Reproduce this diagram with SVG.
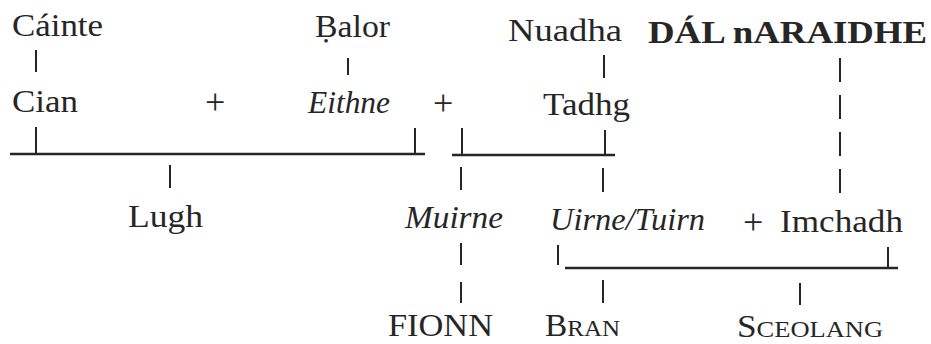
<svg xmlns="http://www.w3.org/2000/svg" width="931" height="344" viewBox="0 0 931 344">
<style>
text{font-family:"Liberation Serif","DejaVu Serif",serif;font-size:32px;fill:#262626}
.it{font-style:italic}
.bd{font-weight:bold}
.sc{font-size:24px}
.pl{font-size:36px}
.ln{stroke:#262626;stroke-width:2;fill:none}
.bar{stroke:#262626;stroke-width:2.6;fill:none}
.dash{stroke:#262626;stroke-width:2;fill:none;stroke-dasharray:24 13}
</style>
<rect width="931" height="344" fill="#ffffff"/>
<g id="connectors">
<line class="ln" x1="36" y1="50" x2="36" y2="72"/>
<line class="ln" x1="348" y1="58" x2="348" y2="75"/>
<line class="ln" x1="604" y1="55" x2="604" y2="78"/>
<line class="dash" x1="840" y1="58" x2="840" y2="193"/>
<line class="ln" x1="36" y1="127" x2="36" y2="154"/>
<line class="bar" x1="10" y1="154" x2="425" y2="154"/>
<line class="ln" x1="415" y1="128" x2="415" y2="154"/>
<line class="bar" x1="452" y1="155" x2="615" y2="155"/>
<line class="ln" x1="462" y1="128" x2="462" y2="155"/>
<line class="ln" x1="605" y1="130" x2="605" y2="155"/>
<line class="ln" x1="170" y1="165" x2="170" y2="188"/>
<line class="ln" x1="461" y1="167" x2="461" y2="190"/>
<line class="ln" x1="603" y1="168" x2="603" y2="192"/>
<line class="ln" x1="461" y1="243" x2="461" y2="265"/>
<line class="ln" x1="461" y1="282" x2="461" y2="303"/>
<line class="ln" x1="558" y1="245" x2="558" y2="265"/>
<line class="bar" x1="565" y1="268" x2="898" y2="268"/>
<line class="ln" x1="888" y1="247" x2="888" y2="268"/>
<line class="ln" x1="603" y1="280" x2="603" y2="303"/>
<line class="ln" x1="800" y1="283" x2="800" y2="305"/>
</g>
<g id="cainte"><text x="12" y="36" textLength="91" lengthAdjust="spacingAndGlyphs">Cáinte</text></g>
<g id="balor"><text x="315" y="37" textLength="75" lengthAdjust="spacingAndGlyphs">Ḅalor</text></g>
<g id="nuadha"><text x="508" y="41" textLength="114" lengthAdjust="spacingAndGlyphs">Nuadha</text></g>
<g id="dal-naraidhe"><text class="bd" x="648" y="43" textLength="279" lengthAdjust="spacingAndGlyphs">DÁL nARAIDHE</text></g>
<g id="cian"><text x="12" y="112" textLength="66" lengthAdjust="spacingAndGlyphs">Cian</text></g>
<g id="plus1"><text class="pl" x="205" y="114">+</text></g>
<g id="eithne"><text class="it" x="308" y="113" textLength="82" lengthAdjust="spacingAndGlyphs">Eithne</text></g>
<g id="plus2"><text class="pl" x="433" y="115">+</text></g>
<g id="tadhg"><text x="543" y="115" textLength="87" lengthAdjust="spacingAndGlyphs">Tadhg</text></g>
<g id="lugh"><text x="128" y="227" textLength="75" lengthAdjust="spacingAndGlyphs">Lugh</text></g>
<g id="muirne"><text class="it" x="405" y="228" textLength="98" lengthAdjust="spacingAndGlyphs">Muirne</text></g>
<g id="uirne-tuirn"><text class="it" x="550" y="230" textLength="155" lengthAdjust="spacingAndGlyphs">Uirne/Tuirn</text></g>
<g id="plus3"><text class="pl" x="743" y="234">+</text></g>
<g id="imchadh"><text x="780" y="232" textLength="123" lengthAdjust="spacingAndGlyphs">Imchadh</text></g>
<g id="fionn"><text x="388" y="336" textLength="105" lengthAdjust="spacingAndGlyphs">FIONN</text></g>
<g id="bran"><text x="545" y="336" textLength="75" lengthAdjust="spacingAndGlyphs">B<tspan class="sc">RAN</tspan></text></g>
<g id="sceolang"><text x="737" y="337" textLength="146" lengthAdjust="spacingAndGlyphs">S<tspan class="sc">CEOLANG</tspan></text></g>
</svg>
